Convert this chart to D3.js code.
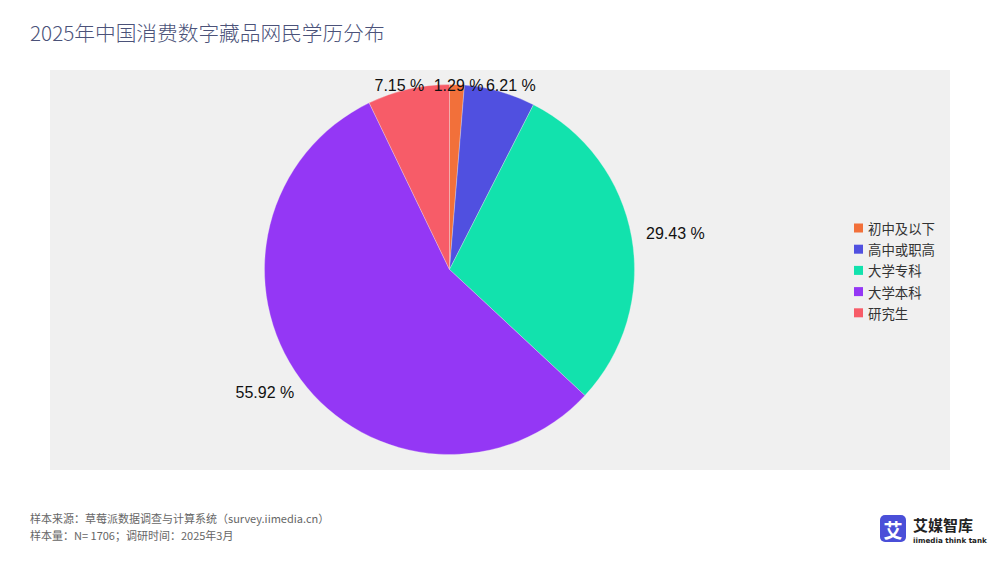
<!DOCTYPE html>
<html><head><meta charset="utf-8">
<script src="https://cdn.jsdelivr.net/npm/d3@7"></script>
<style>
body{margin:0;background:#fff;}
svg{display:block;}
</style></head>
<body>
<svg id="c" width="1000" height="563"></svg>
<script>
const categories = ["初中及以下","高中或职高","大学专科","大学本科","研究生"];
const values = [1.29, 6.21, 29.43, 55.92, 7.15];
const colors = ["#f2703a","#5050e0","#12e2ad","#9437f5","#f75c68"];
const title = "2025年中国消费数字藏品网民学历分布";
const footer = ["样本来源：草莓派数据调查与计算系统（survey.iimedia.cn）","样本量：N= 1706；调研时间：2025年3月"];

const svg = d3.select("#c");
const plot = {x:50, y:70, w:900, h:400};
svg.append("rect").attr("x",plot.x).attr("y",plot.y).attr("width",plot.w).attr("height",plot.h).attr("fill","#f0f0f0");

svg.append("text").attr("x",30).attr("y",41).text(title)
  .attr("font-family","'Noto Sans CJK SC','Noto Sans',sans-serif").attr("font-weight",300).attr("font-size",20.7).attr("fill","#4b5279");

const cx = 449.5, cy = 269.5, R = 185;
const pie = d3.pie().sort(null).value(d=>d)(values);
const arc = d3.arc().innerRadius(0).outerRadius(R);
const g = svg.append("g").attr("transform",`translate(${cx},${cy})`);
g.selectAll("path").data(pie).join("path").attr("d",arc).attr("fill",(d,i)=>colors[i])
  .attr("stroke","#f0f0f0").attr("stroke-width",0.3);

const fs = 16;
const lab = svg.append("g").attr("font-family","'Liberation Sans',Arial,sans-serif").attr("font-size",fs).attr("fill","#111");
pie.forEach((d,i)=>{
  const a = (d.startAngle+d.endAngle)/2;
  const s = Math.sin(a), c = Math.cos(a);
  const t = lab.append("text").text(values[i].toFixed(2)+" %").attr("text-anchor","middle").attr("dominant-baseline","central");
  const w = t.node().getComputedTextLength();
  let x = cx + (R+15)*s + w/2*s;
  let y = cy - (R+15)*c - (fs/2)*c;
  y = Math.max(y, plot.y+15);
  t.attr("x",x).attr("y",y);
});

const lg = svg.append("g").attr("font-family","'Noto Sans CJK SC',sans-serif").attr("font-size",13.4).attr("fill","#333");
categories.forEach((c,i)=>{
  const y = 228 + i*21.2;
  lg.append("rect").attr("x",854).attr("y",y-4.5).attr("width",9).attr("height",9).attr("fill",colors[i]);
  lg.append("text").attr("x",868).attr("y",y).attr("dominant-baseline","central").text(c);
});

const ft = svg.append("g").attr("font-family","'Noto Sans CJK SC',sans-serif").attr("font-size",11).attr("fill","#666");
footer.forEach((f,i)=>ft.append("text").attr("x",30).attr("y",523+i*17).text(f));

// logo
const lo = svg.append("g");
lo.append("rect").attr("x",880).attr("y",515).attr("width",26).attr("height",27).attr("rx",5).attr("fill","#4a4fd8");
lo.append("text").attr("x",893).attr("y",529).attr("text-anchor","middle").attr("dominant-baseline","central")
  .attr("font-family","'Noto Sans CJK SC',sans-serif").attr("font-weight",700).attr("font-size",19).attr("fill","#fff").text("艾");
lo.append("text").attr("x",913).attr("y",531).attr("font-family","'Noto Sans CJK SC',sans-serif").attr("font-weight",700)
  .attr("font-size",15).attr("fill","#222").text("艾媒智库");
lo.append("text").attr("x",913).attr("y",543).attr("font-family","'DejaVu Sans',sans-serif").attr("font-weight",700)
  .attr("font-size",7.2).attr("fill","#222").text("iimedia think tank");
</script>
</body></html>
